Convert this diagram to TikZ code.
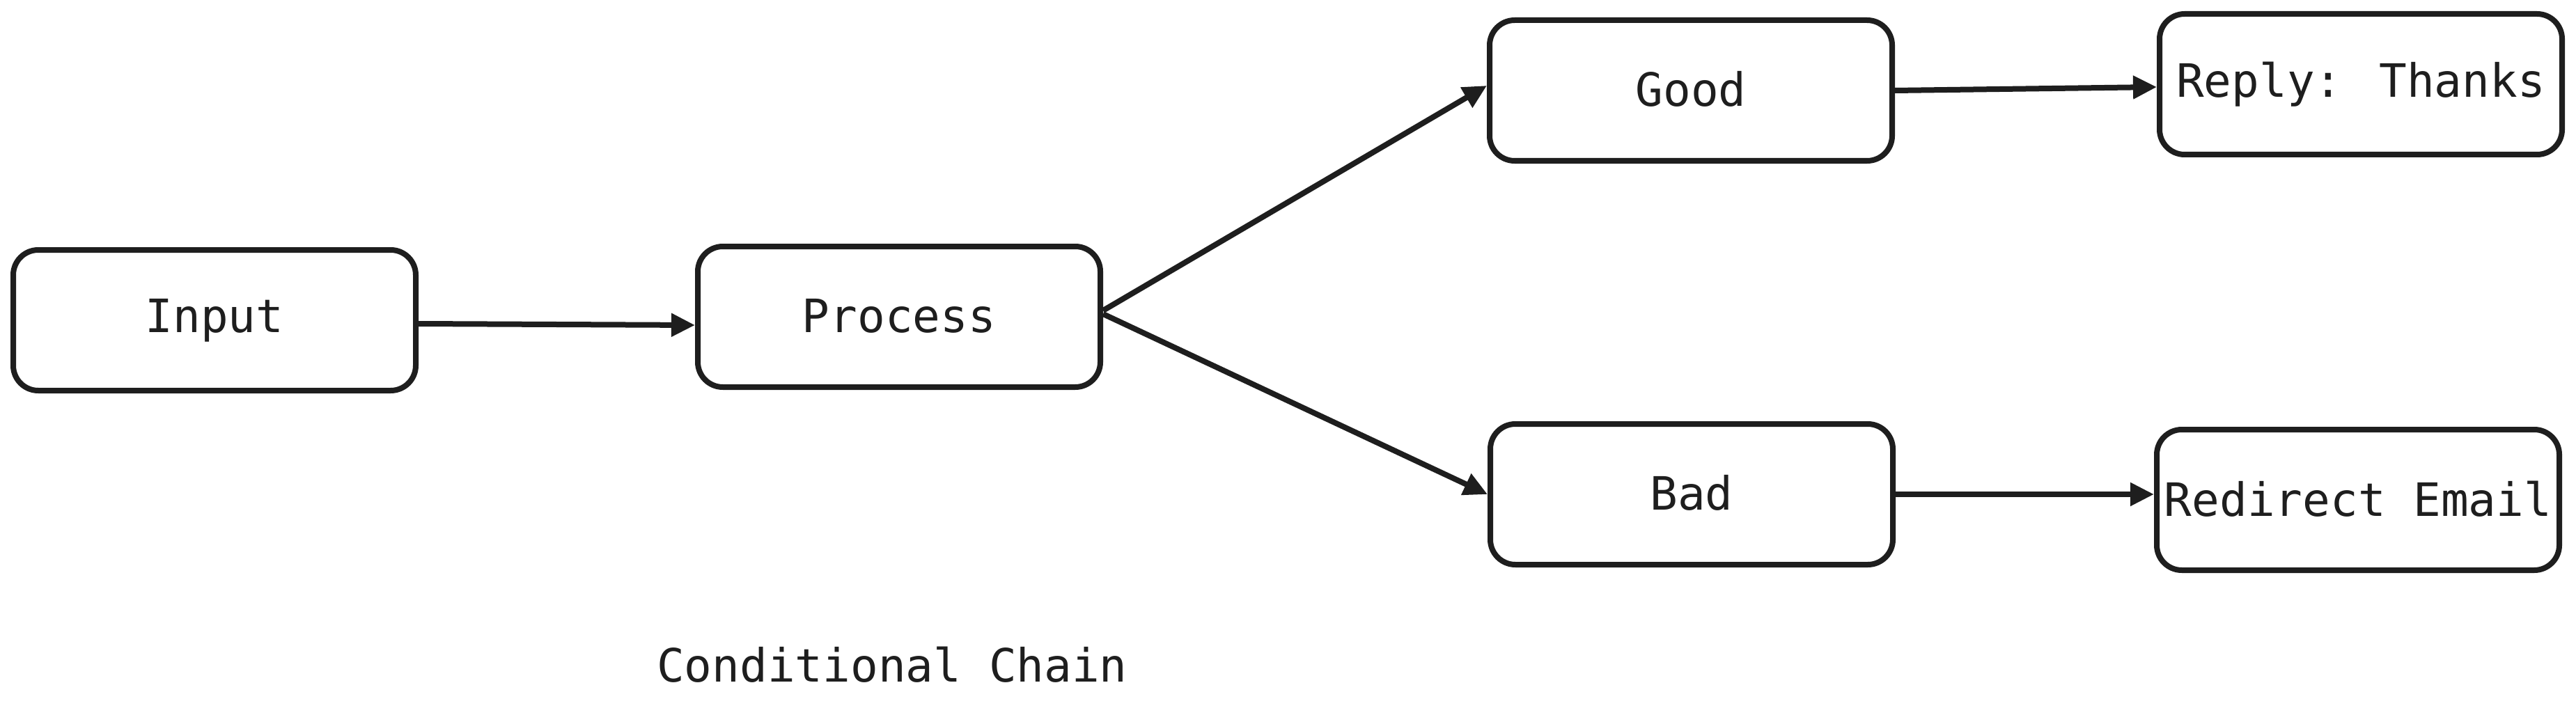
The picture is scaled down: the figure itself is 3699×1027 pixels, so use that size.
\documentclass[tikz,border=0pt]{standalone}
\usepackage{fontspec}
\setmainfont{DejaVu Sans Mono}
\usetikzlibrary{arrows.meta}
\definecolor{ink}{HTML}{1E1E1E}
\begin{document}
\begin{tikzpicture}[x=1pt,y=-1pt,
  box/.style={draw=ink, line width=8pt, rounded corners=36pt, minimum width=578pt, minimum height=202pt, inner sep=0pt, text=ink, font=\fontsize{66}{78}\selectfont},
  lbl/.style={text=ink, inner sep=0pt, font=\fontsize{66}{78}\selectfont},
  arr/.style={draw=ink, line width=8pt, -{Triangle[length=34pt,width=32pt]}}]
\fill[white] (0,0) rectangle (3699,1027);
\useasboundingbox (0,0) rectangle (3699,1027);
\node[box] (in) at (308,460) {\raisebox{3pt}{Input}};
\node[box] (proc) at (1291,455) {\raisebox{3pt}{Process}};
\node[box] (good) at (2428,130) {\raisebox{6pt}{Good}};
\node[box] (reply) at (3390,121) {\raisebox{3pt}{Reply: Thanks}};
\node[box] (bad) at (2429,710) {\raisebox{6pt}{Bad}};
\node[box] (redir) at (3386,718) {\raisebox{3pt}{Redirect Email}};
\node[lbl] (title) at (1281,955) {Conditional Chain};
\draw[arr] ([yshift=-5pt]in.east) -- ([yshift=-12pt]proc.west);
\draw[arr] ([yshift=9pt]proc.east) -- ([yshift=7pt]good.west);
\draw[arr] ([yshift=4pt]proc.east) -- (bad.west);
\draw[arr] (good.east) -- ([yshift=-4pt]reply.west);
\draw[arr] (bad.east) -- ([yshift=8pt]redir.west);
\end{tikzpicture}
\end{document}
